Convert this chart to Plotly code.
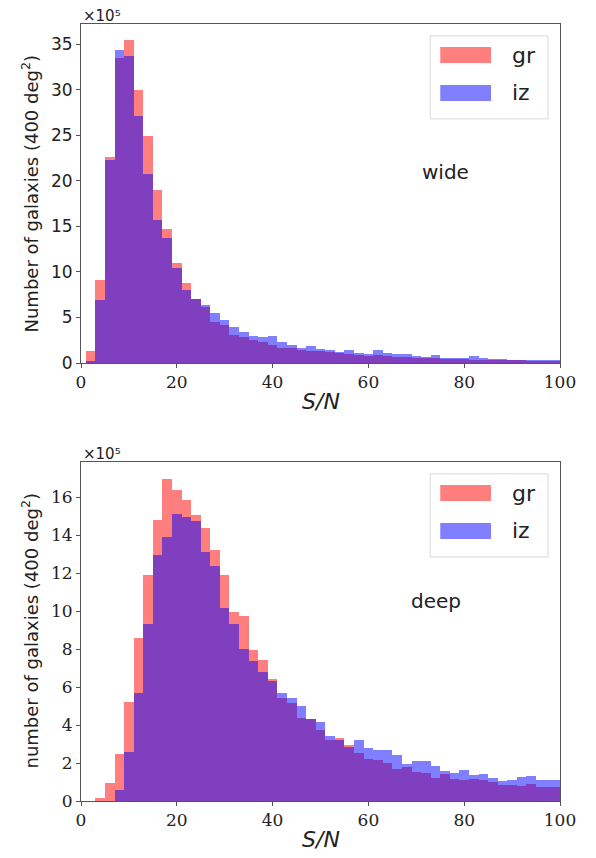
import plotly.graph_objects as go
from plotly.subplots import make_subplots

# bin centres (bins of width 2, edges 1,3,...,101)
bin_centers = [2 * i for i in range(1, 51)]
bin_width = 2

# wide survey, units of 1e5 galaxies
wide_gr = [1.3, 9.1, 22.6, 33.5, 35.4, 30.0, 24.9, 19.0, 14.7, 11.0,
           8.8, 7.0, 6.1, 4.5, 4.2, 3.1, 2.9, 2.5, 2.3, 2.0,
           1.6, 1.6, 1.45, 1.3, 1.35, 1.2, 1.05, 0.95, 0.88, 0.82,
           0.85, 0.73, 0.68, 0.64, 0.56, 0.52, 0.5, 0.45, 0.44, 0.41,
           0.38, 0.37, 0.36, 0.35, 0.3, 0.28, 0.26, 0.25, 0.24, 0.24]
wide_iz = [0.2, 6.9, 22.3, 34.3, 33.7, 27.1, 20.7, 15.7, 13.7, 10.4,
           8.0, 7.0, 6.4, 5.5, 4.7, 3.9, 3.4, 3.0, 2.9, 3.0,
           2.3, 2.0, 1.7, 1.85, 1.55, 1.4, 1.2, 1.45, 1.05, 1.03,
           1.45, 1.1, 0.96, 1.02, 0.75, 0.66, 0.88, 0.6, 0.58, 0.6,
           0.78, 0.5, 0.45, 0.43, 0.37, 0.32, 0.32, 0.3, 0.28, 0.28]

# deep survey, units of 1e5 galaxies
deep_gr = [0, 0.18, 0.95, 2.46, 5.19, 8.6, 11.9, 14.77, 16.97, 16.4,
           15.86, 15.07, 14.37, 13.23, 11.88, 9.93, 9.74, 7.97, 7.44, 6.45,
           5.4, 5.15, 4.39, 4.33, 3.72, 3.19, 3.33, 2.95, 2.55, 2.23,
           2.14, 2.0, 1.7, 1.8, 1.53, 1.47, 1.23, 1.4, 1.14, 1.09,
           1.18, 1.09, 1.0, 0.83, 0.83, 0.77, 0.91, 0.74, 0.74, 0.74]
deep_iz = [0, 0, 0, 0.6, 2.6, 5.7, 9.3, 12.97, 13.9, 15.1,
           14.98, 14.72, 13.1, 12.4, 10.16, 9.3, 8.02, 7.37, 6.79, 6.3,
           5.68, 5.45, 4.98, 4.33, 4.16, 3.41, 3.19, 2.85, 3.19, 2.79,
           2.68, 2.68, 2.4, 1.97, 2.09, 2.09, 1.84, 1.58, 1.47, 1.61,
           1.35, 1.44, 1.23, 1.04, 1.09, 1.26, 1.32, 1.09, 1.09, 1.09]

series_names = ["gr", "iz"]
panel_labels = ["wide", "deep"]
ytitles = ["Number of galaxies (400 deg<sup>2</sup>)",
           "number of galaxies (400 deg<sup>2</sup>)"]
x_ticks = [0, 20, 40, 60, 80, 100]
y_ticks_wide = [0, 5, 10, 15, 20, 25, 30, 35]
y_ticks_deep = [0, 2, 4, 6, 8, 10, 12, 14, 16]

RED = "rgba(255,0,0,0.5)"
BLUE = "rgba(0,0,255,0.5)"
colors = [RED, BLUE]

# page body has an 8px margin, so the figure is drawn 8px in from the corner
W, H = 588, 850
ML, MR, MT, MB = 73, 36, 16, 57
plot_w = W - ML - MR
plot_h = H - MT - MB
top_dom = [(793 - 355) / plot_h, 1.0]
bot_dom = [0.0, (793 - 454) / plot_h]

fig = make_subplots(rows=2, cols=1)

panels = [(wide_gr, wide_iz), (deep_gr, deep_iz)]
for r, (g, z) in enumerate(panels, start=1):
    for name, vals, col in zip(series_names, (g, z), colors):
        fig.add_trace(go.Bar(x=bin_centers, y=vals, width=bin_width, name=name,
                             marker=dict(color=col, line=dict(width=0)),
                             showlegend=False), row=r, col=1)

sans = "DejaVu Sans"
serif = "DejaVu Serif"
txt = "#222222"
frame = "#555555"

axis_common = dict(showline=True, mirror=True, linecolor=frame, linewidth=1,
                   ticks="outside", ticklen=4, tickcolor=frame, showgrid=False,
                   zeroline=False)

fig.update_layout(
    width=W, height=H, margin=dict(l=ML, r=MR, t=MT, b=MB),
    paper_bgcolor="white", plot_bgcolor="white", barmode="overlay",
    bargap=0,
    xaxis=dict(domain=[0, 1], range=[0, 100], tickvals=x_ticks,
               tickfont=dict(family=serif, size=17, color=txt), anchor="y", **axis_common),
    yaxis=dict(domain=top_dom, range=[0, 37.2], tickvals=y_ticks_wide,
               tickfont=dict(family=sans, size=17, color=txt), anchor="x", **axis_common),
    xaxis2=dict(domain=[0, 1], range=[0, 100], tickvals=x_ticks,
                tickfont=dict(family=serif, size=17, color=txt), anchor="y2", **axis_common),
    yaxis2=dict(domain=bot_dom, range=[0, 17.85], tickvals=y_ticks_deep,
                tickfont=dict(family=serif, size=17, color=txt), anchor="x2", **axis_common),
)

anns = []
shapes = []
for i, (xa, ya) in enumerate([("x", "y"), ("x2", "y2")]):
    xd, yd = xa + " domain", ya + " domain"
    # x10^5 multiplier
    anns.append(dict(xref=xd, yref=yd, x=0, y=1, xanchor="left", yanchor="bottom",
                     text="×10⁵", showarrow=False, yshift=-3,
                     font=dict(family=sans, size=15, color=txt)))
    # y title
    anns.append(dict(xref="paper", yref=yd, x=(22 - ML) / plot_w, y=0.5,
                     xanchor="center", yanchor="middle", textangle=-90,
                     text=ytitles[i], showarrow=False,
                     font=dict(family=sans, size=18, color=txt)))
    # x title
    anns.append(dict(xref=xd, yref=yd, x=0.5, y=0, xanchor="center", yanchor="middle",
                     yshift=-38, text="<i>S/N</i>", showarrow=False,
                     font=dict(family=sans, size=22, color=txt)))
    # panel label
    lx, ly = [(0.762, 0.563), (0.741, 0.59)][i]
    anns.append(dict(xref=xd, yref=yd, x=lx, y=ly, xanchor="center", yanchor="middle",
                     text=panel_labels[i], showarrow=False,
                     font=dict(family=sans, size=20, color=txt)))
    # custom legend
    shapes.append(dict(type="rect", xref=xd, yref=yd, x0=0.729, x1=0.975,
                       y0=0.720, y1=0.965, line=dict(color="#d8d8d8", width=1),
                       fillcolor="rgba(255,255,255,0.8)", layer="above"))
    rows_y = [(0.885, 0.932), (0.773, 0.820)]
    for (y0, y1), col, name in zip(rows_y, colors, series_names):
        shapes.append(dict(type="rect", xref=xd, yref=yd, x0=0.750, x1=0.856,
                           y0=y0, y1=y1, line=dict(width=0), fillcolor=col, layer="above"))
        anns.append(dict(xref=xd, yref=yd, x=0.895, y=(y0 + y1) / 2, xanchor="left",
                         yanchor="middle", text=name, showarrow=False,
                         font=dict(family=sans, size=22, color=txt)))

fig.update_layout(annotations=anns, shapes=shapes)
fig.write_html("out.html")
